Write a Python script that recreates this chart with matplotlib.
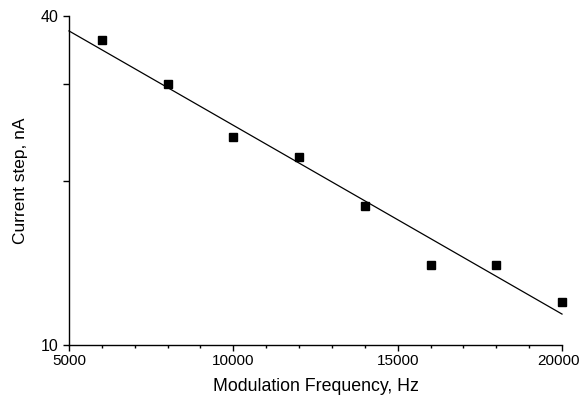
import numpy as np
import matplotlib
matplotlib.use("Agg")
import matplotlib.pyplot as plt
import matplotlib.transforms as mtransforms
from matplotlib.ticker import FixedLocator, NullFormatter, MultipleLocator

freq_hz = [6000, 8000, 10000, 12000, 14000, 16000, 18000, 20000]
current_na = [36.2, 30.0, 24.0, 22.1, 18.0, 14.0, 14.0, 12.0]
fit_range = [5000, 20000]
x_ticks = [5000, 10000, 15000, 20000]
y_labeled = [10, 40]
y_unlabeled = [20, 30]

plt.rcParams['font.family'] = ['Liberation Sans', 'DejaVu Sans']

fig = plt.figure(figsize=(5.82, 4.0), dpi=100)
ax = fig.add_axes([69/582, 55/400, (562-69)/582, (345-16)/400])

# exponential fit (straight line on log axis)
coef = np.polyfit(freq_hz, np.log10(current_na), 1)
xf = np.array(fit_range, dtype=float)
yf = 10 ** np.polyval(coef, xf)
ax.plot(xf, yf, color='black', lw=0.9, clip_on=False)

ax.plot(freq_hz, current_na, linestyle='none', marker='s', ms=5.8,
        color='black', mec='black', clip_on=False)

ax.set_yscale('log')
ax.set_xlim(5000, 20000)
ax.set_ylim(10, 40)

ax.xaxis.set_major_locator(FixedLocator(x_ticks))
ax.xaxis.set_minor_locator(MultipleLocator(1000))
ax.set_xticklabels([str(v) for v in x_ticks])

ax.yaxis.set_major_locator(FixedLocator(y_labeled))
ax.set_yticklabels([str(v) for v in y_labeled])
ax.yaxis.set_minor_locator(FixedLocator(y_unlabeled))
ax.yaxis.set_minor_formatter(NullFormatter())

for s in ['top', 'right']:
    ax.spines[s].set_visible(False)
for s in ['left', 'bottom']:
    ax.spines[s].set_linewidth(1.0)
    ax.spines[s].set_color('black')

ax.tick_params(axis='x', which='major', direction='out', length=4.3,
               width=1.0, labelsize=11, pad=2.5)
ax.tick_params(axis='y', which='major', direction='out', length=4.3,
               width=1.0, labelsize=11.5, pad=3.5)
ax.tick_params(axis='x', which='minor', direction='out', length=2.5, width=1.0)
ax.tick_params(axis='y', which='minor', direction='out', length=4.3, width=1.0)

# nudge the rightmost tick label so it stays inside the figure
last = ax.get_xticklabels()[-1]
last.set_transform(last.get_transform() +
                   mtransforms.ScaledTranslation(-4/100, 0, fig.dpi_scale_trans))

ax.set_xlabel('Modulation Frequency, Hz', fontsize=12.8, labelpad=7)
ax.set_ylabel('Current step, nA', fontsize=12.5, labelpad=9)

fig.savefig('out.png', dpi=100)
